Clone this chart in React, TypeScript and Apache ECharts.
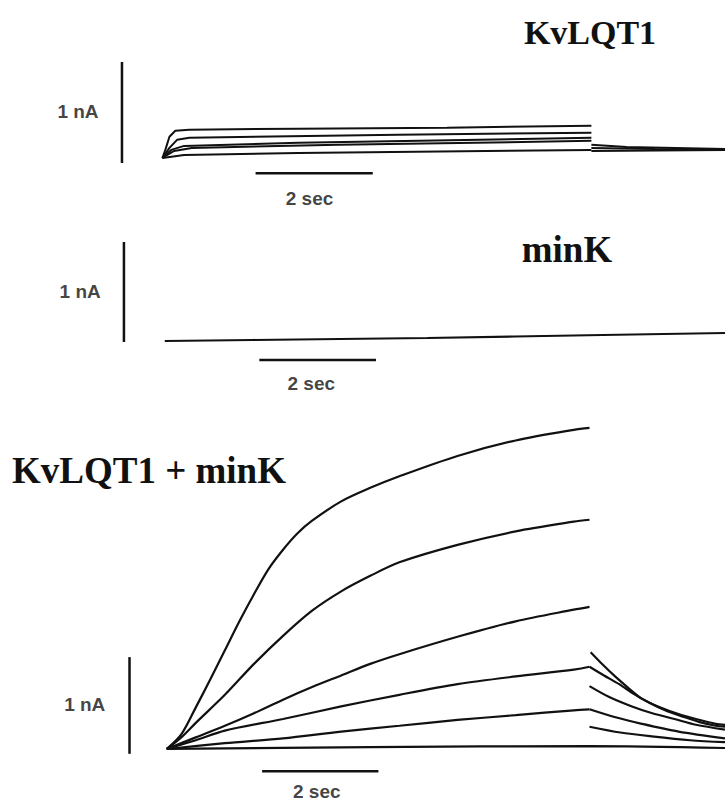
import React, { useEffect, useRef } from "react";
import * as echarts from "echarts";

// ---------- Panel titles / scale labels ----------
const titles = ["KvLQT1", "minK", "KvLQT1 + minK"];
const scaleCurrentLabel = "1 nA";
const scaleTimeLabel = "2 sec";
const SCALE_NA = 1; // nA
const SCALE_SEC = 2; // s

// ---------- Top panel: KvLQT1 ([time s, current nA]) ----------
const kvStep1 = [[0, 0], [0.05, 0.08], [0.12, 0.21], [0.22, 0.27], [0.46, 0.28], [2.32, 0.29], [4.86, 0.3], [7.32, 0.32]];
const kvStep2 = [[0, 0], [0.12, 0.1], [0.25, 0.18], [0.46, 0.2], [4.02, 0.23], [7.32, 0.25]];
const kvStep3 = [[0, 0], [0.15, 0.08], [0.37, 0.12], [2.32, 0.15], [7.32, 0.2]];
const kvStep4 = [[0, 0], [0.2, 0.07], [0.5, 0.1], [3.0, 0.13], [7.32, 0.17]];
const kvStep5 = [[0, 0], [0.37, 0.03], [2.32, 0.05], [7.32, 0.08]];
const kvTail1 = [[7.32, 0.13], [7.92, 0.11], [9.6, 0.09]];
const kvTail2 = [[7.32, 0.1], [8.4, 0.09], [9.6, 0.08]];
const kvTail3 = [[7.32, 0.07], [9.6, 0.08]];

// ---------- Middle panel: minK ----------
const minkTrace = [[0, 0], [1.5, 0.01], [3.0, 0.02], [4.5, 0.03], [6.0, 0.045], [7.5, 0.06], [9.6, 0.08]];

// ---------- Bottom panel: KvLQT1 + minK ----------
const coStep1 = [[0, 0], [0.25, 0.15], [0.5, 0.43], [0.75, 0.72], [1, 1.02], [1.25, 1.32], [1.5, 1.6], [1.75, 1.86], [2, 2.06], [2.25, 2.23], [2.5, 2.36], [3, 2.56], [3.5, 2.7], [4, 2.82], [5, 3.03], [6, 3.19], [7, 3.3], [7.27, 3.32]];
const coStep2 = [[0, 0], [0.25, 0.12], [0.5, 0.27], [1, 0.56], [1.5, 0.88], [2, 1.17], [2.5, 1.43], [3, 1.63], [3.5, 1.79], [4, 1.93], [5, 2.11], [6, 2.25], [7, 2.35], [7.27, 2.37]];
const coStep3 = [[0, 0], [0.5, 0.12], [1, 0.24], [1.5, 0.37], [2, 0.51], [2.5, 0.64], [3, 0.76], [3.5, 0.88], [4, 0.98], [5, 1.16], [6, 1.32], [7, 1.44], [7.27, 1.47]];
const coStep4 = [[0, 0], [0.5, 0.09], [1, 0.19], [2, 0.31], [3, 0.44], [4, 0.56], [5, 0.67], [6, 0.75], [7, 0.82], [7.27, 0.85]];
const coStep5 = [[0, 0], [1, 0.06], [2, 0.11], [3, 0.18], [4, 0.24], [5, 0.3], [6, 0.35], [7, 0.4], [7.27, 0.41]];
const coStep6 = [[0, 0], [3.5, 0.02], [7.27, 0.03], [9.6, 0.01]];
const coTail1 = [[7.29, 1.0], [7.5, 0.87], [7.71, 0.75], [7.94, 0.63], [8.17, 0.52], [8.48, 0.43], [8.8, 0.36], [9.1, 0.31], [9.44, 0.26], [9.6, 0.25]];
const coTail2 = [[7.27, 0.85], [7.52, 0.76], [7.78, 0.67], [8.03, 0.57], [8.29, 0.48], [8.57, 0.4], [8.85, 0.34], [9.15, 0.28], [9.44, 0.24], [9.6, 0.23]];
const coTail3 = [[7.27, 0.65], [7.6, 0.54], [8.0, 0.44], [8.35, 0.37], [8.73, 0.31], [9.1, 0.25], [9.6, 0.2]];
const coTail4 = [[7.27, 0.41], [7.7, 0.33], [8.17, 0.26], [8.8, 0.18], [9.6, 0.11]];
const coTail5 = [[7.27, 0.23], [7.8, 0.17], [8.34, 0.13], [9.0, 0.09], [9.6, 0.07]];

const INK = "#111";
const SANS = "'Liberation Sans', Arial, Helvetica, sans-serif";
const SERIF = "'Liberation Serif', 'Times New Roman', serif";

function traceSeries(data: number[][], idx: number, smooth: number | boolean = false, width = 2) {
  return {
    type: "line",
    xAxisIndex: idx,
    yAxisIndex: idx,
    data,
    symbol: "none",
    smooth,
    silent: true,
    lineStyle: { color: INK, width },
  };
}

function labelSeries(idx: number, at: number[], text: string) {
  return {
    type: "scatter",
    xAxisIndex: idx,
    yAxisIndex: idx,
    symbolSize: 1,
    silent: true,
    itemStyle: { color: "rgba(0,0,0,0)" },
    data: [at],
    label: {
      show: true,
      position: "inside",
      formatter: text,
      color: INK,
      fontFamily: SANS,
      fontWeight: "bold",
      fontSize: 19,
    },
  };
}

function scaleBars(idx: number, xBar: number, yBar0: number, tBar0: number, yHoriz: number, labelNA: number[], labelSec: number[]) {
  return [
    {
      type: "line",
      xAxisIndex: idx,
      yAxisIndex: idx,
      data: [[xBar, yBar0], [xBar, yBar0 + SCALE_NA]],
      symbol: "none",
      silent: true,
      lineStyle: { color: INK, width: 2.5 },
    },
    {
      type: "line",
      xAxisIndex: idx,
      yAxisIndex: idx,
      data: [[tBar0, yHoriz], [tBar0 + SCALE_SEC, yHoriz]],
      symbol: "none",
      silent: true,
      lineStyle: { color: INK, width: 2.5 },
    },
    labelSeries(idx, labelNA, scaleCurrentLabel),
    labelSeries(idx, labelSec, scaleTimeLabel),
  ];
}

export default function App() {
  const ref = useRef<HTMLDivElement>(null);

  useEffect(() => {
    if (!ref.current) return;
    const chart = echarts.init(ref.current, undefined, { renderer: "svg" });
    const hiddenX = (i: number) => ({ type: "value", gridIndex: i, min: -1.5, max: 9.6, show: false });
    const titleText = (x: number, y: number, text: string, size: number, align: string) => ({
      type: "text",
      x,
      y,
      style: {
        text,
        fill: INK,
        font: `bold ${size}px ${SERIF}`,
        align,
        verticalAlign: "middle",
      },
    });
    const option: any = {
      animation: false,
      backgroundColor: "#fff",
      grid: [
        { left: 74.5, top: 46.9, width: 654.9, height: 171.7 },
        { left: 77.25, top: 231, width: 649.35, height: 170 },
        { left: 79.5, top: 400.8, width: 654.9, height: 407.4 },
      ],
      xAxis: [hiddenX(0), hiddenX(1), hiddenX(2)],
      yAxis: [
        { type: "value", gridIndex: 0, min: -0.6, max: 1.1, show: false },
        { type: "value", gridIndex: 1, min: -0.6, max: 1.1, show: false },
        { type: "value", gridIndex: 2, min: -0.6, max: 3.6, show: false },
      ],
      graphic: [
        titleText(590, 32, titles[0], 34, "center"),
        titleText(567, 249, titles[1], 37, "center"),
        titleText(12, 470, titles[2], 37, "left"),
      ],
      series: [
        traceSeries(kvStep1, 0),
        traceSeries(kvStep2, 0),
        traceSeries(kvStep3, 0),
        traceSeries(kvStep4, 0),
        traceSeries(kvStep5, 0),
        traceSeries(kvTail1, 0),
        traceSeries(kvTail2, 0),
        traceSeries(kvTail3, 0),
        ...scaleBars(0, -0.69, -0.05, 1.59, -0.15, [-1.44, 0.46], [2.51, -0.4]),

        traceSeries(minkTrace, 1, false, 2.2),
        ...scaleBars(1, -0.7, -0.01, 1.62, -0.19, [-1.45, 0.5], [2.51, -0.42]),

        traceSeries(coStep1, 2, 0.3, 2.2),
        traceSeries(coStep2, 2, 0.3, 2.2),
        traceSeries(coStep3, 2, 0.3, 2.2),
        traceSeries(coStep4, 2, 0.3, 2.2),
        traceSeries(coStep5, 2, 0.3, 2.2),
        traceSeries(coStep6, 2, 0.3, 2.2),
        traceSeries(coTail1, 2, 0.3, 2.2),
        traceSeries(coTail2, 2, 0.3, 2.2),
        traceSeries(coTail3, 2, 0.3, 2.2),
        traceSeries(coTail4, 2, 0.3, 2.2),
        traceSeries(coTail5, 2, 0.3, 2.2),
        ...scaleBars(2, -0.64, -0.05, 1.64, -0.23, [-1.41, 0.46], [2.58, -0.44]),
      ],
    };
    chart.setOption(option);
    return () => chart.dispose();
  }, []);

  return (
    <div
      ref={ref}
      style={{ position: "absolute", left: 0, top: 0, width: 725, height: 807, background: "#fff" }}
    />
  );
}
